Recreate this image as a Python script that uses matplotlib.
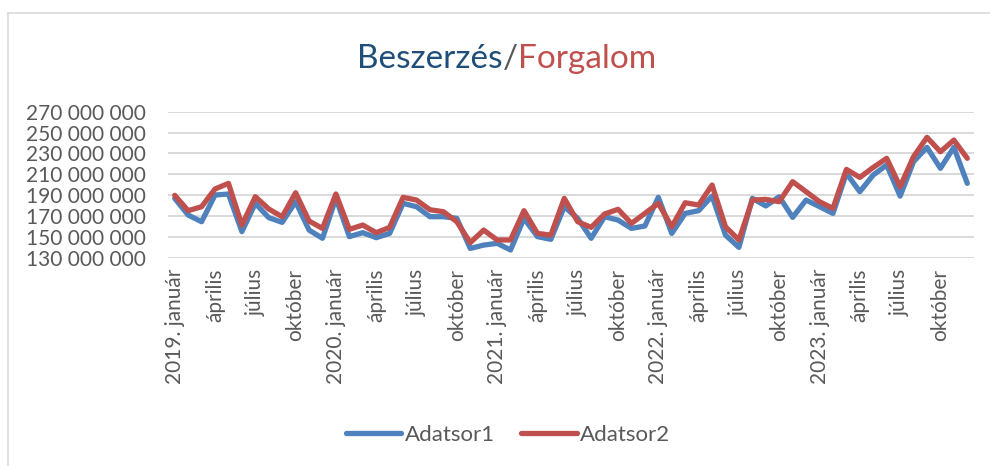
import numpy as np
import matplotlib
matplotlib.use("Agg")
import matplotlib.pyplot as plt
from matplotlib.lines import Line2D

# monthly values, millions (2019 Jan .. 2023 Dec)
adatsor1 = [186.9, 170.9, 164.5, 190.1, 191.1, 155.0, 182.1, 168.4, 163.9, 183.7,
            156.5, 148.6, 186.9, 150.2, 154.0, 149.2, 153.3, 182.1, 178.9, 169.3,
            169.3, 167.7, 138.9, 142.1, 143.8, 137.4, 167.7, 150.2, 147.6, 178.9,
            167.7, 148.6, 169.3, 166.1, 158.1, 160.4, 187.9, 153.3, 172.5, 175.1,
            189.1, 151.7, 139.9, 186.9, 179.6, 188.5, 168.7, 185.3, 178.9, 172.5,
            210.9, 193.3, 209.3, 218.9, 189.1, 222.1, 235.8, 215.7, 235.8, 201.3]
adatsor2 = [189.8, 175.1, 178.9, 195.9, 201.3, 161.3, 188.5, 176.7, 169.3, 192.3,
            165.2, 158.1, 191.1, 157.2, 161.3, 154.0, 159.1, 187.9, 185.3, 176.0,
            174.1, 164.5, 144.4, 156.5, 147.0, 147.0, 175.1, 153.3, 151.7, 186.9,
            164.5, 159.1, 171.9, 176.4, 162.9, 172.5, 182.1, 159.7, 182.7, 180.5,
            199.7, 159.7, 147.0, 185.3, 185.9, 183.7, 202.9, 193.3, 183.7, 177.3,
            214.7, 207.0, 216.6, 225.3, 198.1, 226.9, 245.4, 231.6, 242.8, 225.3]
years = [2019, 2020, 2021, 2022, 2023]
months = ["január", "április", "július", "október"]
yticks = [130, 150, 170, 190, 210, 230, 250, 270]

FONT = "Lato"
GRAY = "#595959"
BLUE = "#4F81BD"
RED = "#C0504D"

x = np.arange(len(adatsor1))
xlabels = []
for y in years:
    for m in months:
        xlabels.append(f"{y}. {m}" if m == "január" else m)

fig = plt.figure(figsize=(9.9, 4.66), dpi=100)
ax = fig.add_axes([168 / 990, 1 - 257.7 / 466, 806 / 990, 146 / 466])
ax.plot(x, np.array(adatsor1) * 1e6, color=BLUE, lw=3.8, label="Adatsor1",
        solid_joinstyle="round", solid_capstyle="round")
ax.plot(x, np.array(adatsor2) * 1e6, color=RED, lw=3.8, label="Adatsor2",
        solid_joinstyle="round", solid_capstyle="round")
ax.set_xlim(-0.5, len(x) - 0.5)
ax.set_ylim(130e6, 270e6)
ax.set_yticks([v * 1e6 for v in yticks])
ax.set_yticklabels([f"{v * 1000000:,}".replace(",", " ") for v in yticks],
                   fontsize=15, color=GRAY, family=FONT)
ax.set_xticks(x[::3])
ax.set_xticklabels(xlabels, rotation=90, fontsize=15, color=GRAY, family=FONT)
ax.tick_params(length=0, pad=8)
ax.tick_params(axis="y", pad=16)
ax.grid(axis="y", color="#D9D9D9", lw=1.4)
ax.set_axisbelow(True)
for s in ax.spines.values():
    s.set_visible(False)

leg = fig.legend(loc="center", bbox_to_anchor=(508 / 990, 1 - 435 / 466), ncol=2,
                 frameon=False, prop={"family": FONT, "size": 16},
                 handlelength=2.5, handletextpad=0.15, columnspacing=1.2)
for t in leg.get_texts():
    t.set_color(GRAY)

# outer chart frame (right/bottom edges fall outside the picture)
fig.add_artist(Line2D([7.5 / 990, 7.5 / 990], [0, 1 - 13 / 466], color="#D9D9D9", lw=1.2))
fig.add_artist(Line2D([7.5 / 990, 1], [1 - 13 / 466, 1 - 13 / 466], color="#D9D9D9", lw=1.2))

# two-colour title
parts = [("Beszerzés", "#1F4E79"), ("/", GRAY), ("Forgalom", RED)]
fig.canvas.draw()
r = fig.canvas.get_renderer()
texts = [fig.text(0, 1 - 68 / 466, s, color=c, fontsize=24, family=FONT) for s, c in parts]
widths = [t.get_window_extent(r).width for t in texts]
pos = 506.5 - sum(widths) / 2
for t, w in zip(texts, widths):
    t.set_x(pos / 990)
    pos += w

fig.savefig("out.png", dpi=100)
